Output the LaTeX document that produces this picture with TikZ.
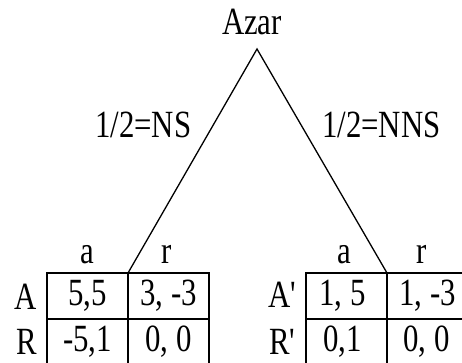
\documentclass[tikz,border=0pt]{standalone}
\usepackage{fontspec}
\setmainfont{Liberation Serif}[FakeStretch=0.8]
\begin{document}
\begin{tikzpicture}[x=1pt,y=-1pt,
  lbl/.style={inner sep=0pt,font=\fontsize{38.5}{42}\selectfont,anchor=base},
  cell/.style={draw,line width=1.3pt,minimum width=81pt,minimum height=46pt,inner sep=0pt,
     text height=25.5pt,text depth=7.5pt,font=\fontsize{38.5}{42}\selectfont},
  branch/.style={line width=1.3pt}]
\useasboundingbox (0,0) rectangle (462,363);
\clip (0,0) rectangle (462,363);
% chance node
\node[lbl] (azar) at (252,35) {Azar};
\coordinate (root) at (257,49);
\coordinate (lend) at (128,273);
\coordinate (rend) at (387,273);
\draw[branch] (lend) -- (root) -- (rend);
\node[lbl,anchor=base west] (ns) at (95,138) {1/2=NS};
\node[lbl,anchor=base west] (nns) at (322,138) {1/2=NNS};
% left table
\node[lbl] (la) at (87,263) {a};
\node[lbl] (lr) at (167,263) {r};
\node[lbl] (lA) at (26,309) {A};
\node[lbl] (lR) at (27,354) {R};
\node[cell] (l11) at (87.5,296) {5,5};
\node[cell] (l12) at (168.5,296) {3, -3};
\node[cell] (l21) at (87.5,342) {-5,1};
\node[cell] (l22) at (168.5,342) {0, 0};
% right table
\node[lbl] (ra) at (344,263) {a};
\node[lbl] (rr) at (422,263) {r};
\node[lbl] (rA) at (283,307) {A\textquotesingle};
\node[lbl] (rR) at (283,354) {R\textquotesingle};
\node[cell] (r11) at (346.5,296) {\hspace*{-8pt}1, 5};
\node[cell] (r12) at (427.5,296) {1, -3};
\node[cell] (r21) at (346.5,342) {\hspace*{-8pt}0,1};
\node[cell] (r22) at (427.5,342) {\hspace*{-2pt}0, 0};
\end{tikzpicture}
\end{document}
